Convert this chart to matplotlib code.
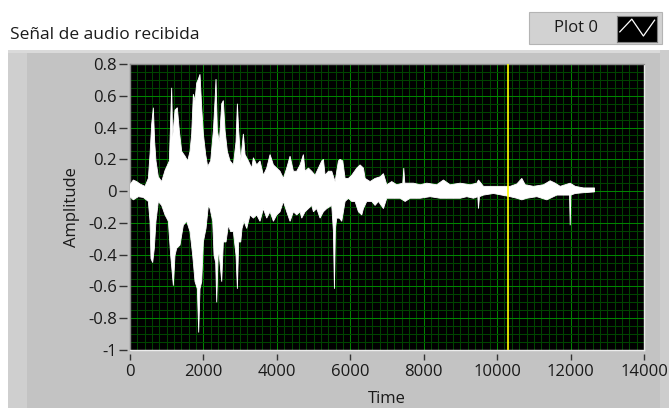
import numpy as np
import matplotlib.pyplot as plt
from matplotlib.patches import Rectangle
from matplotlib.lines import Line2D
from matplotlib.ticker import MultipleLocator

plt.rcParams['font.family'] = ['Open Sans', 'DejaVu Sans']

# envelope of the received audio signal (sample index, amplitude)
upper_t = [0, 91, 182, 272, 409, 500, 545, 590, 636, 672, 708, 772, 863, 954, 1072,
           1135, 1163, 1226, 1290, 1344, 1408, 1499, 1571, 1635, 1680, 1726, 1771, 1817,
           1862, 1907, 1953, 1998, 2062, 2116, 2198, 2271, 2316, 2343, 2380, 2434, 2498,
           2543, 2589, 2652, 2725, 2816, 2888, 2925, 2961, 3016, 3088, 3134, 3225, 3315,
           3361, 3452, 3542, 3633, 3724, 3815, 3906, 3997, 4087, 4178, 4269, 4360, 4451,
           4541, 4633, 4723, 4769, 4860, 4950, 5041, 5132, 5223, 5268, 5314, 5405, 5495,
           5586, 5677, 5722, 5795, 5859, 5950, 6040, 6177, 6267, 6358, 6404, 6540, 6676,
           6812, 6903, 6994, 7130, 7266, 7430, 7457, 7485, 7721, 7902, 8084, 8356, 8538,
           8720, 8992, 9265, 9447, 9492, 9628, 9901, 10173, 10355, 10537, 10673, 10764,
           10991, 11263, 11445, 11581, 11717, 11990, 12126, 12353, 12653]
upper_v = [0.04, 0.07, 0.06, 0.045, 0.03, 0.08, 0.23, 0.42, 0.525, 0.31, 0.19, 0.09, 0.06,
           0.13, 0.19, 0.65, 0.34, 0.51, 0.525, 0.38, 0.25, 0.22, 0.19, 0.25, 0.36, 0.61,
           0.57, 0.68, 0.705, 0.735, 0.525, 0.36, 0.23, 0.155, 0.19, 0.38, 0.57, 0.705,
           0.38, 0.31, 0.55, 0.57, 0.38, 0.25, 0.19, 0.165, 0.31, 0.55, 0.38, 0.19, 0.36,
           0.23, 0.19, 0.145, 0.21, 0.165, 0.19, 0.10, 0.145, 0.23, 0.165, 0.145, 0.125,
           0.08, 0.145, 0.22, 0.125, 0.125, 0.165, 0.23, 0.125, 0.145, 0.125, 0.10, 0.145,
           0.19, 0.20, 0.10, 0.125, 0.125, 0.06, 0.19, 0.20, 0.19, 0.08, 0.08, 0.10, 0.145,
           0.165, 0.145, 0.08, 0.06, 0.08, 0.09, 0.11, 0.04, 0.06, 0.04, 0.05, 0.145, 0.05,
           0.05, 0.04, 0.05, 0.04, 0.07, 0.04, 0.05, 0.04, 0.05, 0.07, 0.03, 0.03, 0.03,
           0.03, 0.045, 0.08, 0.04, 0.03, 0.04, 0.065, 0.05, 0.03, 0.05, 0.03, 0.02, 0.02]

lower_t = [0, 91, 227, 363, 500, 545, 572, 618, 663, 708, 772, 863, 954, 1045, 1108, 1181,
           1226, 1272, 1362, 1453, 1544, 1635, 1708, 1771, 1835, 1871, 1907, 1953, 1998,
           2071, 2135, 2180, 2253, 2289, 2334, 2362, 2407, 2452, 2498, 2543, 2616, 2680,
           2743, 2816, 2888, 2925, 2961, 3016, 3052, 3107, 3179, 3270, 3361, 3452, 3542,
           3633, 3724, 3815, 3906, 3997, 4087, 4178, 4269, 4360, 4451, 4541, 4632, 4678,
           4769, 4860, 4950, 4996, 5087, 5177, 5268, 5359, 5495, 5541, 5568, 5595, 5632,
           5704, 5768, 5859, 5950, 6040, 6131, 6222, 6313, 6358, 6449, 6585, 6676, 6767,
           6903, 6994, 7176, 7357, 7494, 7630, 7902, 8175, 8448, 8720, 8992, 9174, 9356,
           9474, 9492, 9519, 9628, 9901, 10355, 10537, 10673, 10809, 11082, 11354, 11627,
           11972, 11990, 12008, 12126, 12353, 12653]
lower_v = [-0.035, -0.055, -0.035, -0.04, -0.065, -0.19, -0.425, -0.45, -0.36, -0.19,
           -0.065, -0.09, -0.15, -0.19, -0.405, -0.595, -0.405, -0.36, -0.34, -0.215, -0.19,
           -0.255, -0.405, -0.57, -0.615, -0.89, -0.615, -0.57, -0.32, -0.235, -0.09, -0.11,
           -0.19, -0.405, -0.45, -0.70, -0.36, -0.45, -0.57, -0.32, -0.32, -0.215, -0.255,
           -0.255, -0.405, -0.615, -0.32, -0.32, -0.235, -0.19, -0.235, -0.15, -0.17, -0.15,
           -0.19, -0.11, -0.17, -0.13, -0.19, -0.15, -0.13, -0.065, -0.13, -0.19, -0.13,
           -0.15, -0.13, -0.17, -0.13, -0.11, -0.09, -0.13, -0.11, -0.17, -0.13, -0.11,
           -0.09, -0.255, -0.615, -0.235, -0.17, -0.17, -0.19, -0.065, -0.045, -0.065,
           -0.065, -0.13, -0.15, -0.11, -0.065, -0.065, -0.09, -0.065, -0.11, -0.045, -0.045,
           -0.045, -0.065, -0.045, -0.045, -0.035, -0.045, -0.045, -0.045, -0.035, -0.045,
           -0.035, -0.11, -0.035, -0.025, -0.015, -0.035, -0.045, -0.055, -0.045, -0.035,
           -0.055, -0.025, -0.025, -0.215, -0.025, -0.015, -0.01, -0.005]

cursor_t = 10290

x_ticks = [0, 2000, 4000, 6000, 8000, 10000, 12000, 14000]
y_ticks = [0.8, 0.6, 0.4, 0.2, 0, -0.2, -0.4, -0.6, -0.8, -1]
y_labels = ['0.8', '0.6', '0.4', '0.2', '0', '-0.2', '-0.4', '-0.6', '-0.8', '-1']

W, H = 669, 408
FS = 12
INK = '#1a1a1a'
fig = plt.figure(figsize=(W / 100, H / 100), dpi=100)
fig.patch.set_facecolor('white')


def box(x, y, w, h, **kw):
    # rectangle given in pixels from the top-left corner
    r = Rectangle((x / W, 1 - (y + h) / H), w / W, h / H, transform=fig.transFigure,
                  zorder=-10, **kw)
    fig.patches.append(r)
    return r


# graph panel with a raised frame
box(8, 50, 661, 358, facecolor='#c3c3c3', edgecolor='none')
box(8, 50, 19, 358, facecolor='#cfcfcf', edgecolor='none')
box(8, 50, 661, 3, facecolor='#dadada', edgecolor='none')
box(660, 50, 9, 358, facecolor='#cdcdcd', edgecolor='none')

fig.text(10 / W, 1 - 35 / H, 'Señal de audio recibida', fontsize=12.5, color=INK,
         ha='left', va='center')

# plot legend
box(529, 12, 133, 32, facecolor='#d2d2d2', edgecolor='#b4b4b4', lw=0.8)
fig.text(576 / W, 1 - 28.5 / H, 'Plot 0', fontsize=FS, color=INK,
         ha='center', va='center')
icon = fig.add_axes([617 / W, 1 - 42 / H, 40 / W, 26 / H])
icon.set_facecolor('black')
icon.plot([0.07, 0.37, 0.66, 0.94], [0.39, 0.88, 0.23, 0.84], color='white', lw=0.9)
icon.set_xlim(0, 1)
icon.set_ylim(0, 1)
icon.set_xticks([])
icon.set_yticks([])
for s in icon.spines.values():
    s.set_color('#808080')
    s.set_linewidth(0.8)

ax = fig.add_axes([130 / W, 1 - 350 / H, 514 / W, 286 / H])
ax.set_facecolor('black')

ax.fill(upper_t + lower_t[::-1], upper_v + lower_v[::-1], facecolor='white',
        edgecolor='white', lw=0.6, zorder=3)
ax.axvline(cursor_t, color='#ffff00', lw=1.2, zorder=4)

ax.set_xlim(0, 14000)
ax.set_ylim(-1, 0.8)
ax.set_xticks(x_ticks)
ax.set_yticks(y_ticks)
ax.set_yticklabels(y_labels)
ax.xaxis.set_minor_locator(MultipleLocator(200))
ax.yaxis.set_minor_locator(MultipleLocator(0.05))
ax.grid(which='minor', color='#004400', lw=0.75, zorder=1)
ax.grid(which='major', color='#008400', lw=0.75, zorder=2)
ax.set_axisbelow(True)

ax.spines['left'].set_position(('outward', 2))
ax.spines['bottom'].set_position(('outward', 3))
ax.spines['left'].set_visible(False)
ax.spines['bottom'].set_visible(False)
ax.spines['top'].set_color('#8a8a8a')
ax.spines['right'].set_color('#ececec')
for s in ('top', 'right'):
    ax.spines[s].set_linewidth(1)
ax.add_line(Line2D([0, 0], [0, 1], transform=ax.transAxes, color='#8a8a8a', lw=1, clip_on=False))
ax.add_line(Line2D([0, 1], [0, 0], transform=ax.transAxes, color='#ececec', lw=1, clip_on=False))

ax.tick_params(which='minor', length=0)
ax.tick_params(axis='y', which='major', length=5.5, width=1, color='#333333', pad=2,
               labelsize=FS, labelcolor=INK)
ax.tick_params(axis='x', which='major', length=4, width=1, color='#333333', pad=3,
               labelsize=FS, labelcolor=INK)

ax.set_xlabel('Time', fontsize=FS, color=INK, labelpad=8)
ax.set_ylabel('Amplitude', fontsize=FS, color=INK, labelpad=6)

plt.savefig('out.png', dpi=100, facecolor=fig.get_facecolor())
